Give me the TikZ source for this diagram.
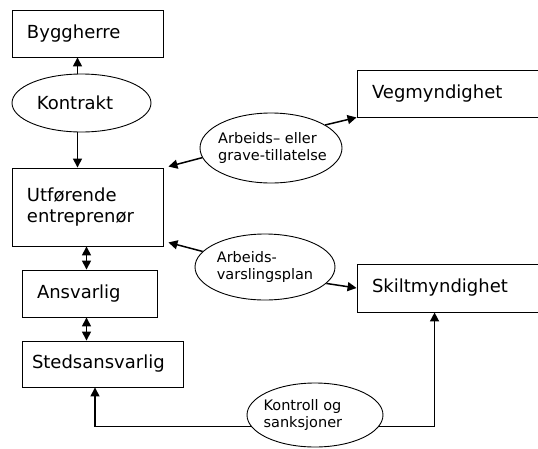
\documentclass[tikz,border=0pt]{standalone}
\usepackage{fontspec}
\setmainfont{DejaVu Sans}
\usetikzlibrary{arrows.meta,shapes.geometric}

\begin{document}
\begin{tikzpicture}[x=1pt,y=-1pt,
        box/.style={draw, line width=0.9pt, inner xsep=15pt, inner ysep=2pt, align=left,
            font=\fontsize{18}{21}\selectfont},
        oval/.style={draw, ellipse, line width=0.9pt, inner xsep=-25pt, inner ysep=-10pt, align=left,
            font=\fontsize{14.5}{17}\selectfont},
        link/.style={line width=1.5pt, -{Triangle[length=9pt,width=9pt]}},
        twoway/.style={line width=1.5pt, {Triangle[length=9pt,width=9pt]}-{Triangle[length=9pt,width=9pt]}}]
                \clip (0,0) rectangle (538,448);
                %parties
                \node[box, text width=121pt, minimum height=47pt] (byggherre) at (87.5,33.5) {Byggherre};
                \node[box, text width=121pt, minimum height=78pt] (utforende) at (87.5,207) {Utførende\\entreprenør};
                \node[box, text width=105pt, minimum height=47pt] (ansvarlig) at (89.5,293.5) {Ansvarlig};
                \node[box, inner xsep=10pt, text width=141pt, minimum height=46pt] (stedsansvarlig) at (102.5,364) {Stedsansvarlig};
                \node[box, text width=158pt, minimum height=47pt] (vegmyndighet) at (451,93.5) {Vegmyndighet};
                \node[box, text width=158pt, minimum height=48pt] (skiltmyndighet) at (451,288) {Skiltmyndighet};
                %documents
                \node[oval, minimum width=139pt, minimum height=58pt, font=\fontsize{18}{21}\selectfont] (kontrakt) at (81.5,103) {Kontrakt\hspace*{13pt}};
                \node[oval, minimum width=142pt, minimum height=70pt] (tillatelse) at (271,148) {\hspace*{3pt}Arbeids– eller\\\hspace*{3pt}grave-tillatelse};
                \node[oval, minimum width=140pt, minimum height=66pt] (varsling) at (265,267) {Arbeids-\\varslingsplan};
                \node[oval, minimum width=136pt, minimum height=64pt] (kontroll) at (315,415) {Kontroll og\hspace*{25pt}\\sanksjoner};
                %arrows
                \draw[link] ([xshift=-4pt]kontrakt.north) -- ([xshift=-4pt]kontrakt.north |- byggherre.south);
                \draw[link] ([xshift=-4pt]kontrakt.south) -- ([xshift=-4pt]kontrakt.south |- utforende.north);
                \draw[twoway] ([xshift=-1pt]utforende.south) -- ([xshift=-1pt]utforende.south |- ansvarlig.north);
                \draw[twoway] ([xshift=-3pt]ansvarlig.south) -- ([xshift=-3pt]ansvarlig.south |- stedsansvarlig.north);
                \draw[link] (tillatelse.23) -- (vegmyndighet.south west);
                \draw[link] (tillatelse.188) -- ([shift={(5pt,1pt)}]utforende.north east);
                \draw[link] (varsling.166) -- ([shift={(5pt,4pt)}]utforende.south east);
                \draw[link] (varsling.345) -- (skiltmyndighet.west);
                \draw[link] (kontroll.190) -| ([xshift=-7.5pt]stedsansvarlig.south);
                \draw[link] (kontroll.350) -| ([xshift=78pt]skiltmyndighet.south west);
            \end{tikzpicture}
\end{document}
